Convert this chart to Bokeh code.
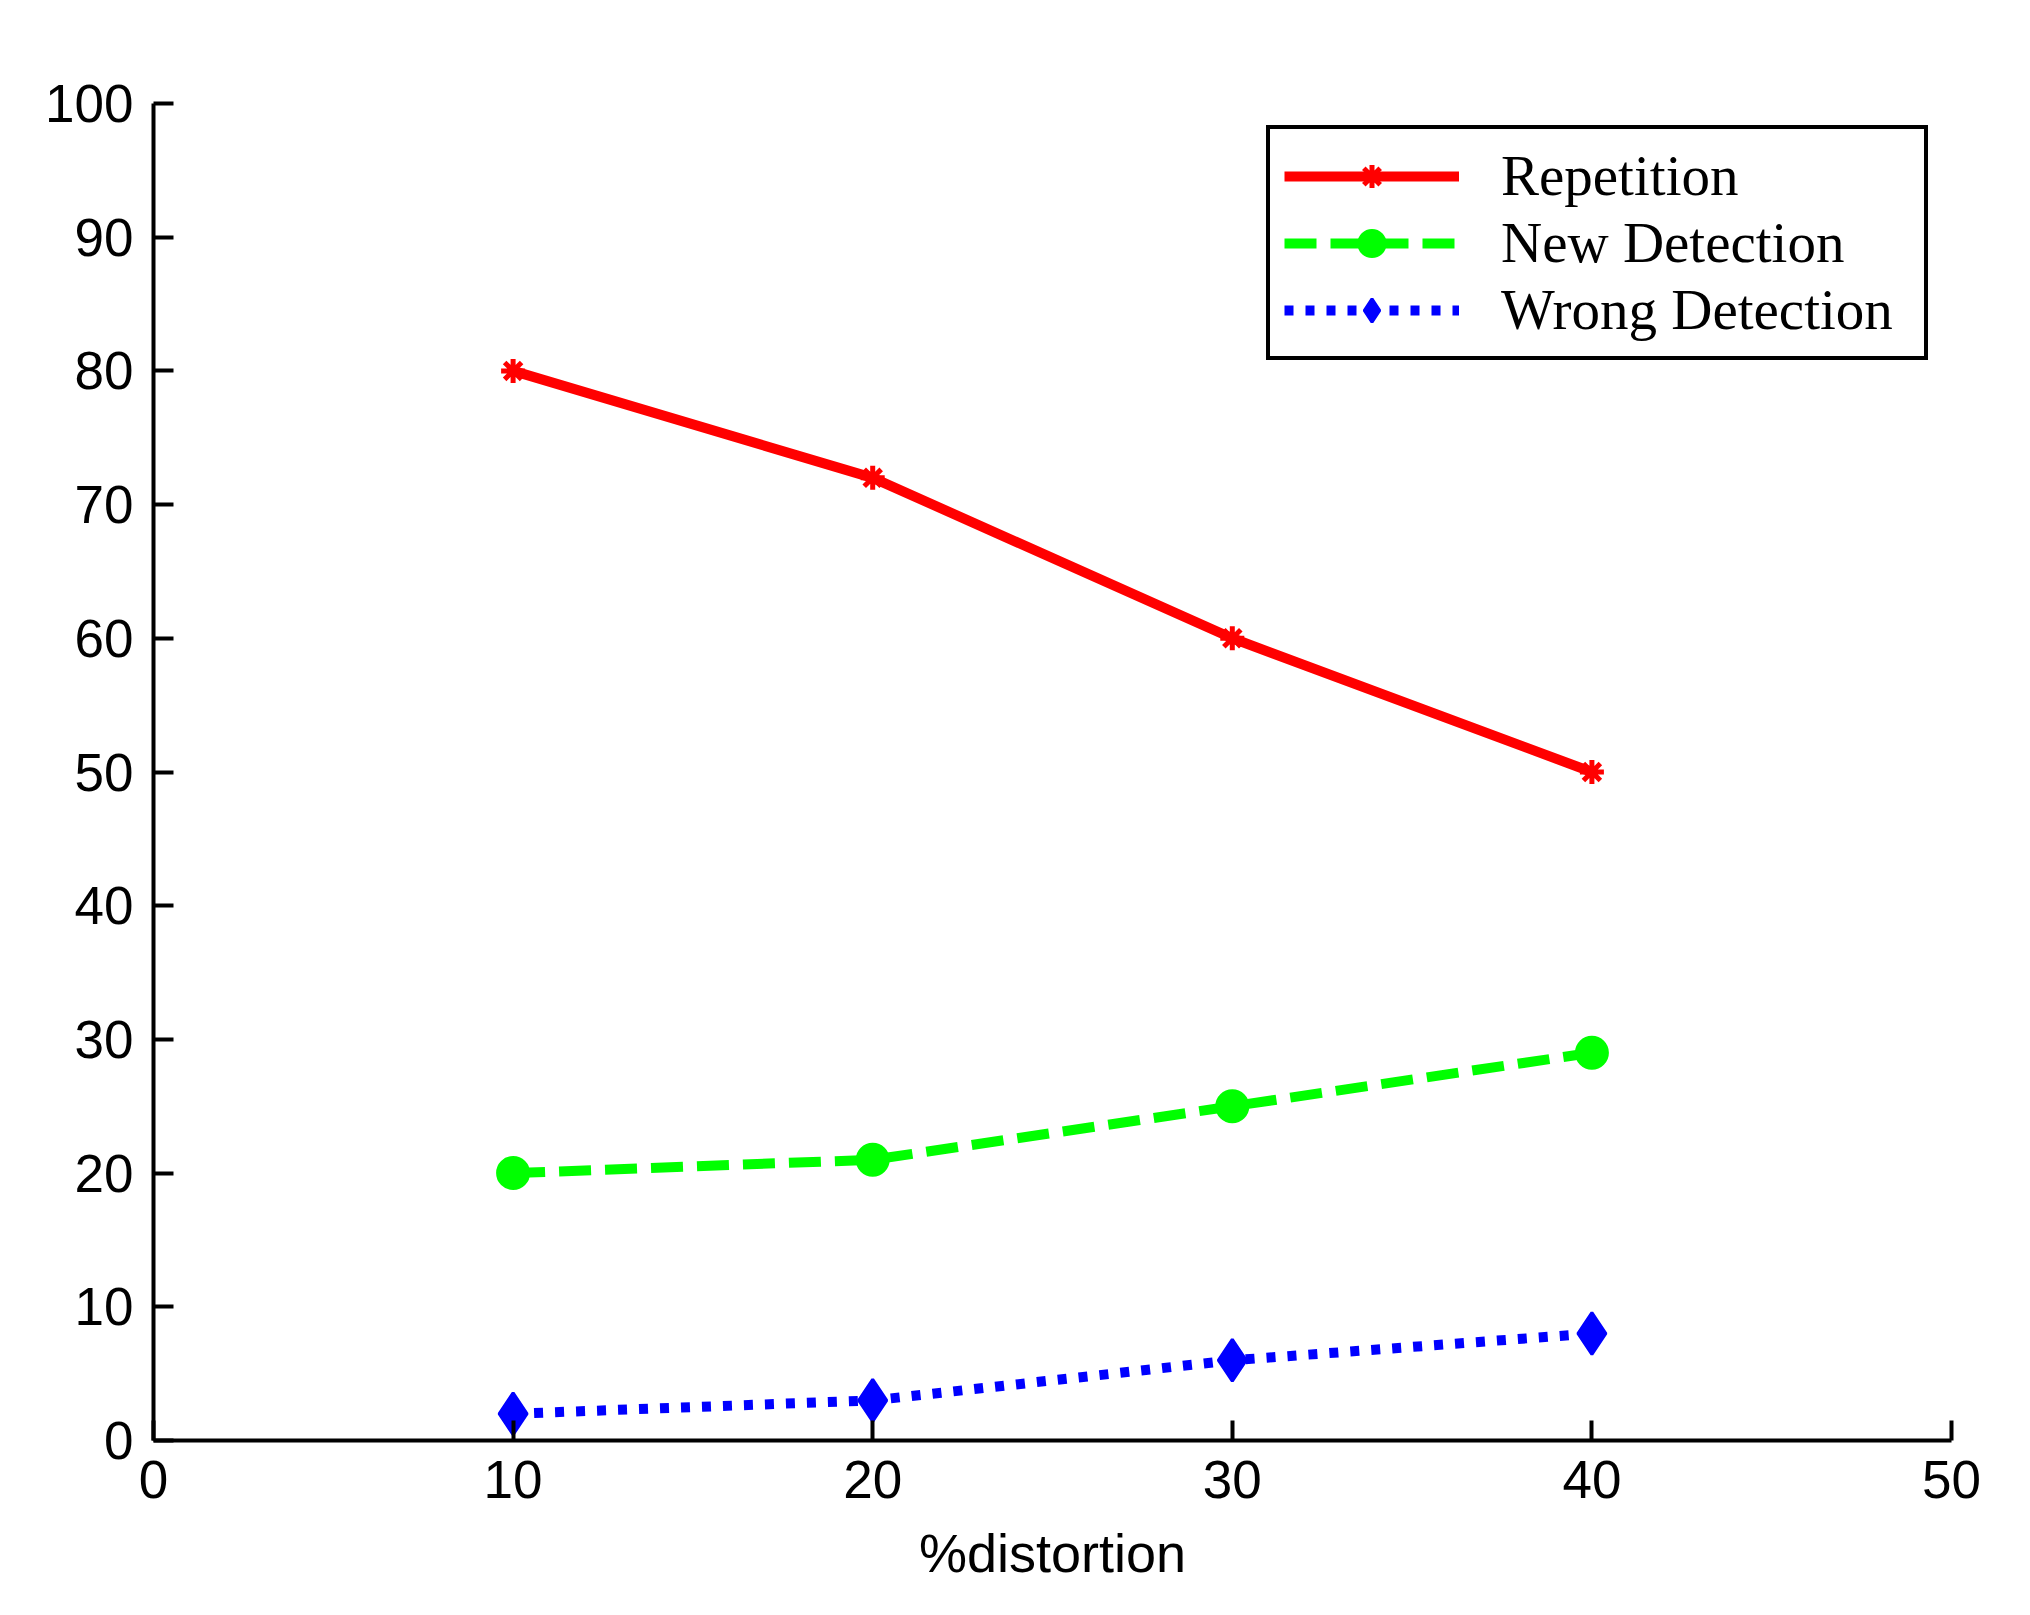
from bokeh.plotting import figure
from bokeh.models import Range1d, FixedTicker
from bokeh.embed import file_html
from bokeh.resources import INLINE

# data
distortion = [10, 20, 30, 40]
repetition = [80, 72, 60, 50]
new_detection = [20, 21, 25, 29]
wrong_detection = [2, 3, 6, 8]
x_ticks = [0, 10, 20, 30, 40, 50]
y_ticks = [0, 10, 20, 30, 40, 50, 60, 70, 80, 90, 100]
x_label = "%distortion"

p = figure(width=2010, height=1595, output_backend="svg", toolbar_location=None,
           x_range=Range1d(0, 50), y_range=Range1d(0, 100),
           min_border_left=153, min_border_right=59, min_border_top=103, min_border_bottom=155)
p.background_fill_color = "white"
p.border_fill_color = "white"
p.outline_line_color = None
p.xgrid.visible = False
p.ygrid.visible = False

for ax, ticks in ((p.xaxis, x_ticks), (p.yaxis, y_ticks)):
    ax.ticker = FixedTicker(ticks=ticks)
    ax.major_tick_in = 20
    ax.major_tick_out = 0
    ax.minor_tick_in = 0
    ax.minor_tick_out = 0
    ax.axis_line_width = 4
    ax.axis_line_color = "black"
    ax.major_tick_line_width = 4
    ax.major_tick_line_color = "black"
    ax.major_label_text_font = "Liberation Sans"
    ax.major_label_text_font_size = "53px"
    ax.major_label_text_color = "#000000"
    ax.major_label_standoff = 20

p.xaxis.axis_label = x_label
p.xaxis.axis_label_text_font = "Liberation Sans"
p.xaxis.axis_label_text_font_size = "54px"
p.xaxis.axis_label_text_font_style = "normal"
p.xaxis.axis_label_text_color = "#000000"
p.xaxis.axis_label_standoff = 22

red = "#ff0000"
green = "#00ff00"
blue = "#0000ff"

p.line(distortion, repetition, line_color=red, line_width=10, legend_label="Repetition")
p.scatter(distortion, repetition, marker="asterisk", size=24, line_color=red, line_width=5,
          legend_label="Repetition")

p.line(distortion, new_detection, line_color=green, line_width=10, line_dash="32 14",
       legend_label="New Detection")
p.scatter(distortion, new_detection, marker="circle", size=28, line_color=green, line_width=6,
          fill_color=green, legend_label="New Detection")

p.line(distortion, wrong_detection, line_color=blue, line_width=10, line_dash="9 12",
       legend_label="Wrong Detection")
p.scatter(distortion, wrong_detection, marker="diamond", size=42, line_color=blue, line_width=3,
          fill_color=blue, legend_label="Wrong Detection")

lg = p.legend[0]
lg.location = (1113, 1080)
lg.border_line_color = "black"
lg.border_line_alpha = 1.0
lg.border_line_width = 4
lg.background_fill_color = "white"
lg.background_fill_alpha = 1.0
lg.label_text_font = "Liberation Serif"
lg.label_text_font_size = "57px"
lg.label_text_color = "black"
lg.glyph_width = 175
lg.glyph_height = 58
lg.label_height = 58
lg.label_standoff = 42
lg.spacing = 2
lg.padding = 14
lg.margin = 0
lg.label_width = 409

open("out.html", "w").write(file_html(p, INLINE))
